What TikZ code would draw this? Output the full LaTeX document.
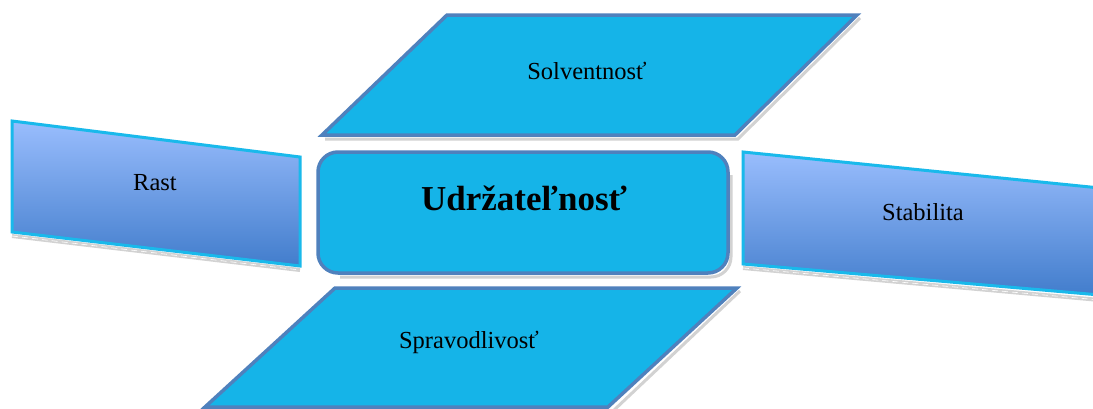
\documentclass[tikz,border=0pt]{standalone}
\usepackage{fontspec}
\setmainfont{Liberation Serif}
\definecolor{cyanfill}{RGB}{21,180,232}
\definecolor{steel}{RGB}{79,129,189}
\definecolor{gtop}{RGB}{153,189,253}
\definecolor{gbot}{RGB}{66,125,204}
\definecolor{cyanedge}{RGB}{25,185,235}
\definecolor{shadowgray}{RGB}{210,210,210}
\tikzset{
  para/.style={draw=steel, fill=cyanfill, line width=3.5pt, line join=miter},
  sidebox/.style={draw=cyanedge, line width=3pt, top color=gtop, bottom color=gbot},
  shadowline/.style={draw=shadowgray, line width=3pt},
  lbl/.style={inner sep=0pt, text=black, font=\fontsize{24.5}{28}\selectfont},
  mainlbl/.style={inner sep=0pt, text=black, font=\fontsize{35}{40}\selectfont\bfseries},
}
\begin{document}
\begin{tikzpicture}[x=1pt,y=-1pt]
\clip (0,0) rectangle (1093,408);
\fill[white] (0,0) rectangle (1093,408);

% Top parallelogram (Solventnost)
\draw[shadowline] (860,18) -- (738,139) -- (325,139);
\draw[para] (447,15) -- (857,15) -- (735,135) -- (322,135) -- cycle;
\node[lbl] (solv) at (587,71) {Solventnosť};

% Centre rounded box
\draw[shadowline, rounded corners=20pt] (731,175) -- (731,277) -- (340,277);
\draw[para, rounded corners=20pt] (318,152) rectangle (728,273);
\node[mainlbl] (udr) at (524,198) {Udržateľnosť};

% Bottom parallelogram (Spravodlivost)
\draw[shadowline] (740,291) -- (612,412);
\draw[para] (335,288) -- (737,288) -- (608,407) -- (205,407) -- cycle;
\node[lbl] (sprav) at (469,342) {Spravodlivosť};

% Left box (Rast)
\draw[shadowline, line width=4pt] (12,236) -- (300,270);
\draw[white, line width=0.6pt, dash pattern=on 6pt off 4pt] (12,236) -- (300,270);
\shade[sidebox] (12,121) -- (300,157) -- (300,266) -- (12,232) -- cycle;
\node[lbl] (rast) at (155,183) {Rast};

% Right box (Stabilita)
\draw[shadowline, line width=4pt] (743,268) -- (1100,300);
\draw[white, line width=0.6pt, dash pattern=on 6pt off 4pt] (743,268) -- (1100,300);
\shade[sidebox] (743,152) -- (1100,188) -- (1100,295) -- (743,264) -- cycle;
\node[lbl] (stab) at (923,212) {Stabilita};
\end{tikzpicture}
\end{document}
